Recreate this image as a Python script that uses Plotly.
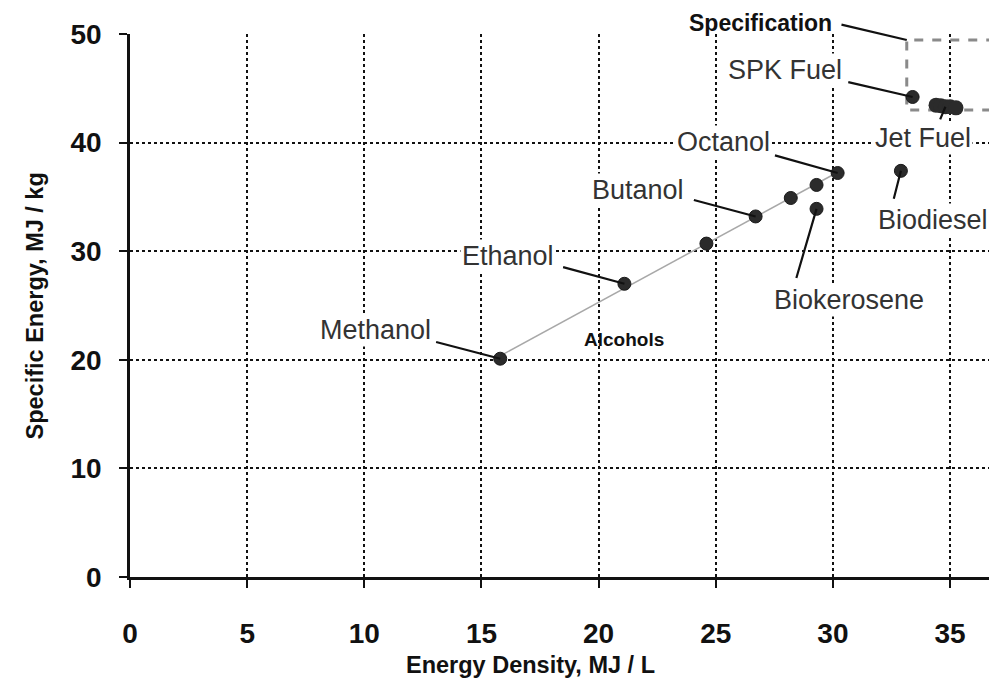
import numpy as np
import plotly.graph_objects as go

# ---- data ----
alcohol_names = ["Methanol", "Ethanol", "Propanol", "Butanol", "Pentanol", "Hexanol", "Octanol"]
alcohol_density = [15.8, 21.1, 24.6, 26.7, 28.2, 29.3, 30.2]   # MJ / L
alcohol_specific = [20.1, 27.0, 30.7, 33.2, 34.9, 36.1, 37.2]  # MJ / kg

other_names = ["Biokerosene", "Biodiesel", "SPK Fuel"]
other_density = [29.3, 32.9, 33.4]
other_specific = [33.9, 37.4, 44.2]

jet_density = [34.4, 34.6, 34.8, 35.0, 35.25]
jet_specific = [43.45, 43.4, 43.3, 43.3, 43.2]

spec_density = [33.15, 40.0]     # min energy density .. beyond axis
spec_specific = [43.0, 49.45]

x_ticks = [0, 5, 10, 15, 20, 25, 30, 35]
y_ticks = [0, 10, 20, 30, 40, 50]

FONT = "Liberation Sans, Arial, sans-serif"
Y_MAX = 50
X_MAX = 36.66

fig = go.Figure()

# alcohol trend line (least-squares fit)
k, b = np.polyfit(alcohol_density, alcohol_specific, 1)
xs = [min(alcohol_density), max(alcohol_density)]
fig.add_trace(go.Scatter(x=xs, y=[k * v + b for v in xs], mode="lines",
                         line=dict(color="#a8a8a8", width=1.5), hoverinfo="skip"))

# specification box
fig.add_trace(go.Scatter(
    x=[spec_density[1], spec_density[0], spec_density[0], spec_density[1]],
    y=[spec_specific[1], spec_specific[1], spec_specific[0], spec_specific[0]],
    mode="lines", line=dict(color="#8a8a8a", width=3, dash="dash"), hoverinfo="skip"))

marker = dict(color="#2b2b2b", size=13, line=dict(color="#1a1a1a", width=1))
fig.add_trace(go.Scatter(x=alcohol_density, y=alcohol_specific, mode="markers",
                         marker=marker, text=alcohol_names))
fig.add_trace(go.Scatter(x=other_density, y=other_specific, mode="markers",
                         marker=marker, text=other_names))
fig.add_trace(go.Scatter(x=jet_density, y=jet_specific, mode="markers",
                         marker=dict(color="#2b2b2b", size=15, line=dict(width=0))))

# label layout: (text, target x, target y, label centre x/y, leader start x/y)
labels = [
    ("Methanol", alcohol_density[0], alcohol_specific[0], 10.48, 22.74, 13.0, 21.67),
    ("Ethanol", alcohol_density[1], alcohol_specific[1], 16.13, 29.55, 18.42, 28.57),
    ("Butanol", alcohol_density[3], alcohol_specific[3], 21.66, 35.6, 24.0, 34.75),
    ("Octanol", alcohol_density[6], alcohol_specific[6], 25.33, 40.05, 27.46, 38.86),
    ("Biokerosene", other_density[0], other_specific[0], 30.69, 25.5, 28.42, 27.4),
    ("Biodiesel", other_density[1], other_specific[1], 34.26, 32.87, 32.58, 34.7),
    ("SPK Fuel", other_density[2], other_specific[2], 27.96, 46.7, 30.59, 45.6),
    ("Jet Fuel", jet_density[2], jet_specific[2], 33.85, 40.4, 34.55, 42.0),
]
# leader lines
for t, px, py, lx, ly, sx, sy in labels:
    fig.add_annotation(x=px, y=py, ax=sx, ay=sy, axref="x", ayref="y", text="",
                       showarrow=True, arrowhead=0, arrowwidth=2.2,
                       arrowcolor="#111", standoff=0)
# label texts
for t, px, py, lx, ly, sx, sy in labels:
    fig.add_annotation(x=lx, y=ly, text=t, showarrow=False,
                       font=dict(family=FONT, size=27, color="#333"),
                       bgcolor="white", borderpad=1)

fig.add_annotation(x=spec_density[0], y=spec_specific[1], ax=30.3, ay=50.9,
                   axref="x", ayref="y", text="", showarrow=True, arrowhead=0,
                   arrowwidth=2.2, arrowcolor="#111", standoff=0)
fig.add_annotation(x=26.89, y=50.98 / Y_MAX, yref="paper", text="<b>Specification</b>",
                   showarrow=False, xanchor="center", yanchor="middle",
                   font=dict(family=FONT, size=23, color="#111"))

fig.add_annotation(x=21.1, y=21.9, text="<b>Alcohols</b>", showarrow=False,
                   font=dict(family=FONT, size=19, color="#111"))

fig.update_layout(
    width=989, height=687,
    margin=dict(l=130, r=0, t=34, b=110),
    paper_bgcolor="white", plot_bgcolor="white",
    showlegend=False,
    font=dict(family=FONT),
    xaxis=dict(range=[0, X_MAX], tickvals=x_ticks, ticks="outside", ticklen=8,
               tickwidth=2, tickcolor="#111", showline=True, linecolor="#111",
               linewidth=2.5, showgrid=True, gridcolor="#111", gridwidth=2,
               griddash="dot", zeroline=False, ticklabelstandoff=22,
               tickfont=dict(family=FONT, size=28, color="#111", weight="bold")),
    yaxis=dict(range=[0, Y_MAX], tickvals=y_ticks, ticks="outside", ticklen=8,
               tickwidth=2, tickcolor="#111", showline=True, linecolor="#111",
               linewidth=2.5, showgrid=True, gridcolor="#111", gridwidth=2,
               griddash="dot", zeroline=False, ticklabelstandoff=12,
               tickfont=dict(family=FONT, size=28, color="#111", weight="bold")),
)

# axis titles (positioned in paper units; plot area is 859 x 543 px)
fig.add_annotation(xref="paper", yref="paper", x=0.466, y=-0.162,
                   xanchor="center", yanchor="middle",
                   text="<b>Energy Density, MJ / L</b>", showarrow=False,
                   font=dict(family=FONT, size=23.5, color="#111"))
fig.add_annotation(xref="paper", yref="paper", x=-0.1106, y=0.5, textangle=-90,
                   xanchor="center", yanchor="middle",
                   text="<b>Specific Energy, MJ / kg</b>", showarrow=False,
                   font=dict(family=FONT, size=23.5, color="#111"))

fig.write_html("out.html", config={"displayModeBar": False},
               post_script="document.body.style.margin='0';document.body.style.overflow='hidden';")
